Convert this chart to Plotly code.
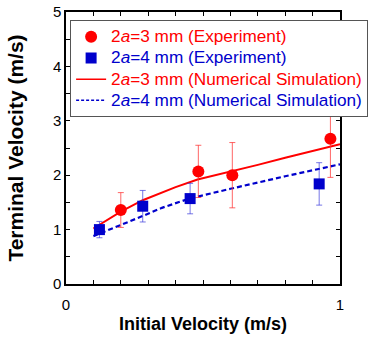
import plotly.graph_objects as go

x_exp3 = [0.20, 0.483, 0.607, 0.965]
y_exp3 = [1.36, 2.07, 2.00, 2.67]
e_exp3 = [0.32, 0.48, 0.60, 0.71]

x_exp4 = [0.122, 0.28, 0.453, 0.924]
y_exp4 = [1.00, 1.43, 1.57, 1.84]
e_exp4 = [0.15, 0.29, 0.28, 0.39]

# Numerical simulation curves
x_sim3 = [0.10, 0.15, 0.20, 0.28, 0.35, 0.40, 0.48, 0.60, 0.70, 0.80, 0.90, 1.00]
y_sim3 = [1.02, 1.18, 1.33, 1.54, 1.68, 1.78, 1.92, 2.06, 2.19, 2.32, 2.44, 2.57]

x_sim4 = [0.10, 0.15, 0.20, 0.28, 0.35, 0.45, 0.60, 0.70, 0.80, 0.90, 1.00]
y_sim4 = [0.88, 0.98, 1.08, 1.25, 1.40, 1.57, 1.75, 1.87, 1.98, 2.09, 2.20]

x_tickvals = [0, 0.1, 0.2, 0.3, 0.4, 0.5, 0.6, 0.7, 0.8, 0.9, 1.0]
x_ticktext = ["0", "", "", "", "", "", "", "", "", "", "1"]
y_tickvals = [0, 0.5, 1, 1.5, 2, 2.5, 3, 3.5, 4, 4.5, 5]
y_ticktext = ["0", "", "1", "", "2", "", "3", "", "4", "", "5"]

RED = "#ff0000"
BLUE = "#0000cc"


def leg(text, color):
    return f'<span style="color:{color};font-size:17.2px">{text}</span>'


fig = go.Figure()
fig.add_trace(go.Scatter(
    x=x_sim3, y=y_sim3, mode="lines", line=dict(color=RED, width=2),
    showlegend=False))
fig.add_trace(go.Scatter(
    x=x_sim4, y=y_sim4, mode="lines", line=dict(color=BLUE, width=2.2, dash="5px,3px"),
    showlegend=False))
fig.add_trace(go.Scatter(
    x=x_exp3, y=y_exp3, mode="markers",
    marker=dict(symbol="circle", size=12, color=RED),
    error_y=dict(type="data", array=e_exp3, color="rgba(255,50,50,0.75)", thickness=1, width=3),
    name=leg("2<i>a</i>=3 mm (Experiment)", RED)))
fig.add_trace(go.Scatter(
    x=x_exp4, y=y_exp4, mode="markers",
    marker=dict(symbol="square", size=11, color=BLUE),
    error_y=dict(type="data", array=e_exp4, color="rgba(60,60,220,0.7)", thickness=1, width=3),
    name=leg("2<i>a</i>=4 mm (Experiment)", BLUE)))
fig.add_trace(go.Scatter(
    x=[None], y=[None], mode="lines", line=dict(color=RED, width=1.5),
    name=leg("2<i>a</i>=3 mm (Numerical Simulation)", RED)))
fig.add_trace(go.Scatter(
    x=[None], y=[None], mode="lines", line=dict(color=BLUE, width=1.5, dash="3px,2px"),
    name=leg("2<i>a</i>=4 mm (Numerical Simulation)", BLUE)))

axis_common = dict(showline=True, linecolor="black", linewidth=1.5, mirror="ticks",
                   ticks="inside", ticklen=4, tickcolor="black", showgrid=False,
                   zeroline=False, automargin=False, ticklabeloverflow="allow",
                   tickfont=dict(size=15, color="black"))

fig.update_layout(
    width=372, height=338,
    margin=dict(l=66, r=32, t=12, b=54, autoexpand=False),
    paper_bgcolor="white", plot_bgcolor="white",
    font=dict(family="Arial, Liberation Sans, sans-serif", color="black"),
    xaxis=dict(range=[0, 1], tickvals=x_tickvals, ticktext=x_ticktext,
               ticklabelstandoff=6,
               title=dict(text="<b>Initial Velocity (m/s)</b>", font=dict(size=18), standoff=6),
               **axis_common),
    yaxis=dict(range=[0, 5], tickvals=y_tickvals, ticktext=y_ticktext,
               title=dict(text="<b>Terminal Velocity (m/s)</b>", font=dict(size=21), standoff=24),
               **axis_common),
    legend=dict(x=0.015, y=0.97, xanchor="left", yanchor="top",
                bgcolor="white", bordercolor="#555555", borderwidth=1,
                font=dict(size=14), itemwidth=30, tracegroupgap=0,
                traceorder="normal"),
)

fig.write_html("out.html", config={"displayModeBar": False},
               post_script="document.body.style.margin='0';document.body.style.overflow='hidden';")
